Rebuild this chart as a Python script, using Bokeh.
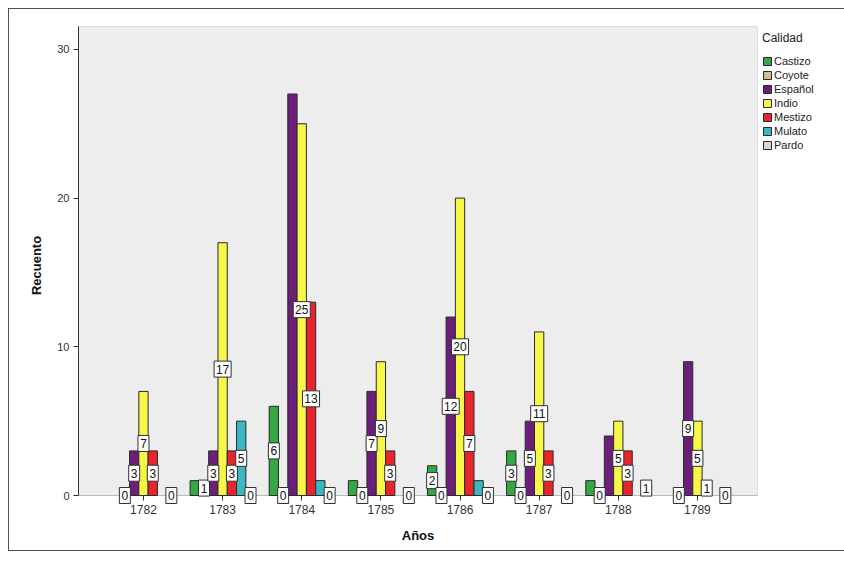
import numpy as np
from bokeh.plotting import figure
from bokeh.models import Range1d, FixedTicker, ColumnDataSource, Legend, LegendItem, BoxAnnotation
from bokeh.embed import file_html
from bokeh.resources import INLINE
from bokeh.core.properties import value

# ---- data ----
years = ["1782", "1783", "1784", "1785", "1786", "1787", "1788", "1789"]
calidades = ["Castizo", "Coyote", "Español", "Indio", "Mestizo", "Mulato", "Pardo"]
castizo = [None, 1, 6, 1, 2, 3, 1, None]
coyote = [0, 1, 0, 0, 0, 0, 0, 0]
espanol = [3, 3, 27, 7, 12, 5, 4, 9]
indio = [7, 17, 25, 9, 20, 11, 5, 5]
mestizo = [3, 3, 13, 3, 7, 3, 3, 1]
mulato = [None, 5, 1, None, 1, None, None, None]
pardo = [0, 0, 0, 0, 0, 0, 1, 0]
y_ticks = [0, 10, 20, 30]
# value labels that the original chart does not display (overlapping)
hidden_labels = [("1783", "Castizo"), ("1784", "Español"), ("1784", "Mulato"),
                 ("1785", "Castizo"), ("1786", "Mulato"), ("1788", "Castizo"),
                 ("1788", "Español")]

series = [castizo, coyote, espanol, indio, mestizo, mulato, pardo]
colors = ["#33a843", "#d4bc8f", "#6b1f7a", "#f7f74a", "#e8252d", "#3bb8c2", "#d6d6d6"]

FONT = "Liberation Sans"
slot = 0.1175
xi = np.arange(len(years))
mid = (len(calidades) - 1) / 2
X0, X1 = -0.821, 7.759
Y0, Y1 = -0.605, 31.54   # a little room below zero so the "0" boxes are not cut

p = figure(frame_width=679, frame_height=478,
           x_range=Range1d(X0, X1), y_range=Range1d(Y0, Y1),
           output_backend="svg", toolbar_location=None,
           min_border_left=69, min_border_right=81, min_border_top=17, min_border_bottom=46)
p.styles = {"border": "1px solid #505050", "margin": "8px"}
p.background_fill_color = "white"
p.border_fill_color = "white"
p.outline_line_color = None
p.xgrid.grid_line_color = None
p.ygrid.grid_line_color = None

# grey plotting area from zero upward, with its outline (bottom edge = baseline)
p.add_layout(BoxAnnotation(left=X0, right=X1, bottom=0, top=Y1,
                           fill_color="#ededed", fill_alpha=1,
                           line_color="#303030", line_width=1,
                           level="underlay", editable=False))

legend_items = []
lab_x, lab_y, lab_t, lab_w = [], [], [], []
for k, (cat, vals, col) in enumerate(zip(calidades, series, colors)):
    xs = xi + (k - mid) * slot
    tops = [np.nan if v is None else v for v in vals]
    src = ColumnDataSource(dict(x=xs, top=tops))
    r = p.vbar(x="x", top="top", bottom=0, width=slot, source=src,
               fill_color=col, line_color="#2a2a2a", line_width=1)
    legend_items.append(LegendItem(label=cat, renderers=[r]))
    for i, v in enumerate(vals):
        if v is None or (years[i], cat) in hidden_labels:
            continue
        lab_x.append(xs[i])
        lab_y.append(v / 2)
        lab_t.append(str(v))
        lab_w.append(11 if len(str(v)) == 1 else 17)

lsrc = ColumnDataSource(dict(x=lab_x, y=lab_y, t=lab_t, w=lab_w))
p.rect(x="x", y="y", width="w", height=16, width_units="screen", height_units="screen",
       source=lsrc, fill_color="white", line_color="#303030", line_width=1)
p.text(x="x", y="y", text="t", source=lsrc, text_align="center", text_baseline="middle",
       text_font=value(FONT), text_font_size="12px", text_color="#111111")

legend = Legend(items=legend_items, location="top_left", title="Calidad")
legend.title_text_font = FONT
legend.title_text_font_size = "12px"
legend.title_text_font_style = "normal"
legend.title_text_color = "#222222"
legend.title_standoff = 9
legend.label_text_font = FONT
legend.label_text_font_size = "11px"
legend.label_text_color = "#222222"
legend.glyph_width = 10
legend.glyph_height = 10
legend.label_height = 14
legend.label_standoff = 2
legend.spacing = 0
legend.padding = 6
legend.margin = 5
legend.border_line_color = None
legend.background_fill_alpha = 0
p.add_layout(legend, "right")

xa = p.xaxis[0]
xa.ticker = FixedTicker(ticks=[int(i) for i in xi])
xa.major_label_overrides = {int(i): y for i, y in zip(xi, years)}
xa.axis_label = "Años"
ya = p.yaxis[0]
ya.ticker = FixedTicker(ticks=y_ticks)
ya.axis_label = "Recuento"
ya.bounds = (0, Y1)
for ax in (xa, ya):
    ax.axis_label_text_font = FONT
    ax.axis_label_text_font_size = "13px"
    ax.axis_label_text_font_style = "bold"
    ax.axis_label_text_color = "#111111"
    ax.major_label_text_font = FONT
    ax.major_label_text_color = "#333333"
    ax.axis_line_color = "#303030"
    ax.major_tick_line_color = "#303030"
    ax.minor_tick_line_color = None
ya.major_tick_out = 5
ya.major_tick_in = 0
# x axis sits at the frame bottom (9 px under the baseline): its line is hidden
# (the grey area's edge is the baseline) and its ticks reach up to the baseline
xa.axis_line_color = None
xa.major_tick_in = 9
xa.major_tick_out = -4
xa.minor_tick_in = 0
xa.minor_tick_out = -4
xa.major_label_text_font_size = "12px"
ya.major_label_text_font_size = "11px"
xa.major_label_standoff = 0
xa.axis_label_standoff = 11
ya.major_label_standoff = 4
ya.axis_label_standoff = 10

open("out.html", "w").write(file_html(p, INLINE))
